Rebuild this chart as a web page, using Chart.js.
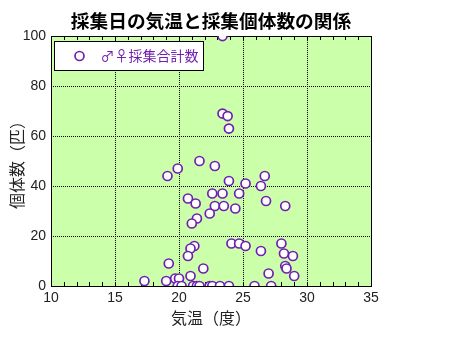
<!DOCTYPE html>
<html lang="ja">
<head>
<meta charset="utf-8">
<script src="https://cdn.jsdelivr.net/npm/chart.js@4.4.1/dist/chart.umd.min.js"></script>
<style>
  html, body { margin: 0; padding: 0; background: #fff; }
</style>
</head>
<body>
<canvas id="myScatter" width="455" height="341"></canvas>
<script>
// 採集日ごとの気温(度)と採集個体数(匹)
var temps = [23.4, 23.4, 23.8, 23.9, 21.6, 22.8, 19.9, 19.1, 26.7, 23.9,
             25.2, 26.4, 22.6, 23.4, 24.7, 20.7, 26.8, 21.3, 22.8, 23.5,
             28.3, 24.4, 22.4, 21.4, 21.0, 24.1, 24.7, 25.2, 28.0, 21.2,
             20.9, 26.4, 28.2, 20.7, 28.9, 19.2, 28.3, 28.4, 21.9, 27.0,
             20.9, 29.0, 19.7, 20.0, 17.3, 19.0, 19.9, 20.2, 21.1, 21.4,
             21.6, 22.4, 22.6, 23.2, 23.9, 25.9, 27.2];
var counts = [100, 69, 68, 63, 50, 48, 47, 44, 44, 42,
              41, 40, 37, 37, 37, 35, 34, 33, 32, 32,
              32, 31, 29, 27, 25, 17, 17, 16, 17, 16,
              15, 14, 13, 12, 12, 9, 8, 7, 7, 5,
              4, 4, 3, 3, 2, 2, 0, 0, 0, 0,
              0, 0, 0, 0, 0, 0, 0];
var seriesLabel = '♂♀採集合計数';
var xRange = [10, 35];
var yRange = [0, 100];

var purple = '#7020b0';
var jpFont = '"Noto Sans CJK JP", sans-serif';

var points = temps.map(function(t, i) { return { x: t, y: counts[i] }; });

// 内側の目盛り・枠・凡例を描くプラグイン
var plotDecor = {
    id: 'plotDecor',
    beforeDraw: function(chart) {
        var a = chart.chartArea, ctx = chart.ctx;
        ctx.save();
        ctx.fillStyle = '#ccffaa';
        ctx.fillRect(a.left, a.top, a.right - a.left, a.bottom - a.top);
        ctx.restore();
    },
    beforeDatasetsDraw: function(chart) {
        var a = chart.chartArea, ctx = chart.ctx;
        var xs = chart.scales.x;
        ctx.save();
        ctx.strokeStyle = '#000';
        ctx.lineWidth = 1;
        ctx.beginPath();
        for (var v = xRange[0] + 1; v < xRange[1]; v++) {
            var px = Math.round(xs.getPixelForValue(v)) + 0.5;
            ctx.moveTo(px, a.bottom);
            ctx.lineTo(px, a.bottom - 4);
            ctx.moveTo(px, a.top);
            ctx.lineTo(px, a.top + 4);
        }
        ctx.stroke();
        ctx.strokeRect(Math.round(a.left) + 0.5, Math.round(a.top) + 0.5,
                       Math.round(a.right - a.left), Math.round(a.bottom - a.top));

        // 凡例
        var bx = Math.round(a.left) + 3.5, by = Math.round(a.top) + 5.5;
        ctx.fillStyle = '#fff';
        ctx.fillRect(bx, by, 149, 29);
        ctx.strokeRect(bx, by, 149, 29);
        var cy = by + 14.5;
        ctx.beginPath();
        ctx.arc(bx + 25, cy, 4.5, 0, Math.PI * 2);
        ctx.fillStyle = '#fff';
        ctx.fill();
        ctx.lineWidth = 1.7;
        ctx.strokeStyle = purple;
        ctx.stroke();
        ctx.fillStyle = purple;
        ctx.font = '14px ' + jpFont;
        ctx.textBaseline = 'middle';
        ctx.textAlign = 'left';
        ctx.fillText(seriesLabel, bx + 46, cy);
        ctx.restore();
    }
};

function innerGrid(ctx) {
    var s = ctx.scale;
    var v = ctx.tick.value;
    return (v > s.min && v < s.max) ? '#000' : 'rgba(0,0,0,0)';
}

var myScatter = new Chart(document.getElementById('myScatter').getContext('2d'), {
    type: 'scatter',
    data: {
        datasets: [{
            label: seriesLabel,
            data: points,
            pointStyle: 'circle',
            pointRadius: 4.5,
            pointHoverRadius: 4.5,
            pointBorderWidth: 1.7,
            pointBackgroundColor: '#fff',
            pointBorderColor: purple
        }]
    },
    plugins: [plotDecor],
    options: {
        responsive: false,
        animation: false,
        layout: { padding: { top: 0, right: 84, bottom: 0, left: 0 } },
        plugins: {
            legend: { display: false },
            tooltip: { enabled: false },
            title: {
                display: true,
                text: '採集日の気温と採集個体数の関係',
                fullSize: false,
                color: '#000',
                font: { family: jpFont, size: 18.7, weight: 'bold' },
                padding: { top: 9.5, bottom: 4.1 }
            }
        },
        scales: {
            x: {
                type: 'linear',
                min: xRange[0],
                max: xRange[1],
                afterFit: function(scale) { scale.height = 55; },
                ticks: {
                    stepSize: 5,
                    padding: 4,
                    color: '#222',
                    font: { family: '"Liberation Sans", Arial, sans-serif', size: 14 }
                },
                grid: { color: innerGrid, lineWidth: 1, drawTicks: false },
                border: { display: false, dash: [1, 1] },
                title: {
                    display: true,
                    text: '気温（度）',
                    color: '#222',
                    font: { family: jpFont, size: 16 },
                    padding: { top: 0, bottom: 13 }
                }
            },
            y: {
                type: 'linear',
                min: yRange[0],
                max: yRange[1],
                afterFit: function(scale) { scale.width = 51; },
                ticks: {
                    stepSize: 20,
                    padding: 5,
                    color: '#222',
                    font: { family: '"Liberation Sans", Arial, sans-serif', size: 14 }
                },
                grid: { color: innerGrid, lineWidth: 1, drawTicks: false },
                border: { display: false, dash: [1, 1] },
                title: {
                    display: true,
                    text: '個体数（匹）',
                    color: '#222',
                    font: { family: jpFont, size: 16 },
                    padding: { top: 7, bottom: 0 }
                }
            }
        }
    }
});
</script>
</body>
</html>
